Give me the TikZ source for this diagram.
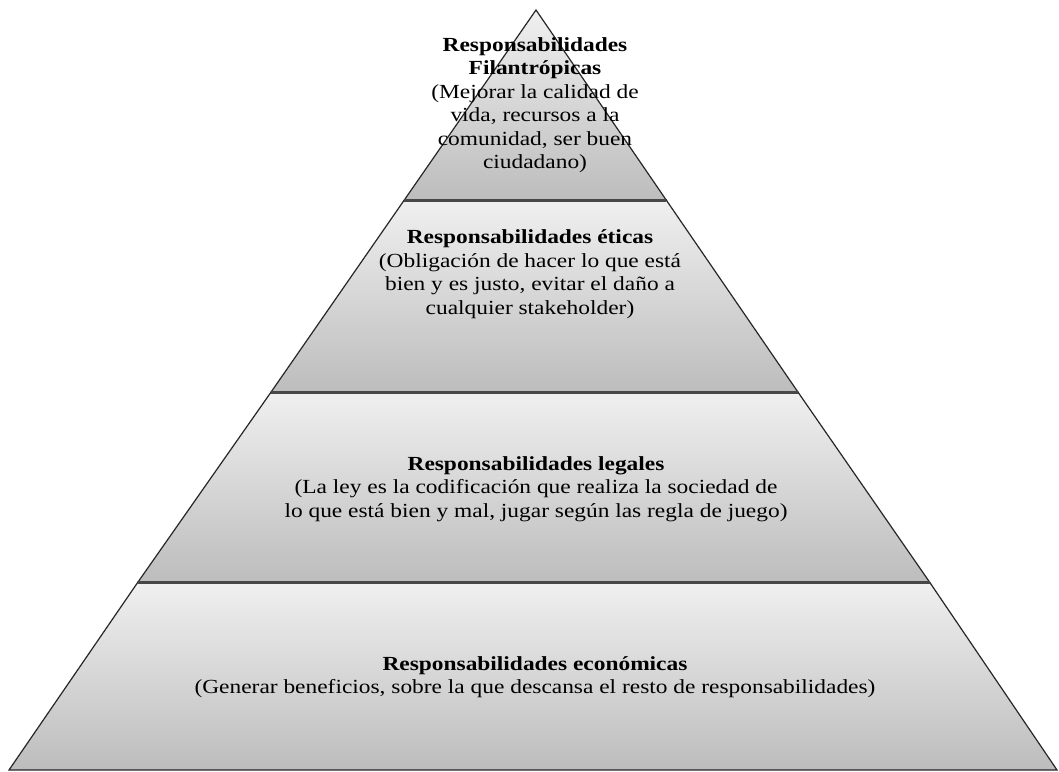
\documentclass[tikz,border=0pt]{standalone}
\usepackage{fontspec}
\setmainfont{Liberation Serif}[FakeStretch=1.17]
\begin{document}
\begin{tikzpicture}[x=1pt,y=-1pt,
  layer/.style={top color=black!6, bottom color=black!26, draw=black!85, line width=1.2pt},
  sep/.style={draw=black!72, line width=3pt},
  lbl/.style={align=center, font=\fontsize{20}{23.5}\selectfont, inner sep=0pt, text=black}]
\useasboundingbox (0,0) rectangle (1059,771);
% layers
\path[layer] (536,10) -- (666.2,200) -- (404.3,200) -- cycle;
\path[layer] (404.3,200) -- (666.2,200) -- (797.9,392) -- (271.1,392) -- cycle;
\path[layer] (271.1,392) -- (797.9,392) -- (929.5,582) -- (138.0,582) -- cycle;
\path[layer] (138.0,582) -- (929.5,582) -- (1057,770) -- (9,770) -- cycle;
% separators
\draw[sep] (404.3,200) -- (666.2,200);
\draw[sep] (271.1,392) -- (797.9,392);
\draw[sep] (138.0,582) -- (929.5,582);
% texts
\node[lbl] (fil) at (535,105) {\textbf{Responsabilidades}\\\textbf{Filantrópicas}\\(Mejorar la calidad de\\vida, recursos a la\\comunidad, ser buen\\ciudadano)};
\node[lbl] (eti) at (530,274) {\textbf{Responsabilidades éticas}\\(Obligación de hacer lo que está\\bien y es justo, evitar el daño a\\cualquier stakeholder)};
\node[lbl] (leg) at (536,489) {\textbf{Responsabilidades legales}\\(La ley es la codificación que realiza la sociedad de\\lo que está bien y mal, jugar según las regla de juego)};
\node[lbl] (eco) at (535,677) {\textbf{Responsabilidades económicas}\\(Generar beneficios, sobre la que descansa el resto de responsabilidades)};
\end{tikzpicture}
\end{document}
